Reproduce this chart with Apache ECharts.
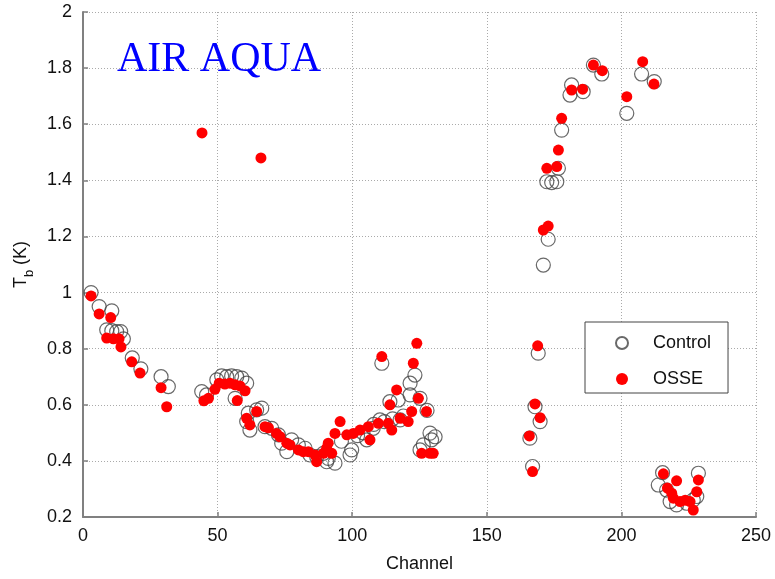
<!DOCTYPE html>
<html>
<head>
<meta charset="utf-8">
<script src="https://cdn.jsdelivr.net/npm/echarts@6/dist/echarts.min.js"></script>
<style>
html,body{margin:0;padding:0;background:#fff;}
#chart{width:775px;height:579px;}
</style>
</head>
<body>
<div id="chart"></div>
<script>
// Axis ticks
var xTicks = [0, 50, 100, 150, 200, 250];
var yTicks = [0.2, 0.4, 0.6, 0.8, 1, 1.2, 1.4, 1.6, 1.8, 2];

// Control series (open circles)
var controlChannel = [3, 6, 10.7, 8.8, 10.7, 12.5, 14, 15, 18.3, 21.5, 29, 31.7,
  44.1, 45.9, 49.7, 51.5, 53.4, 55.2, 57.1, 59, 60.8, 56.5,
  61.4, 64.5, 66.4, 60.8, 62, 67.6, 70.1, 72.6, 73.8, 75.7, 77.5, 80, 82.5, 84.3, 86.8, 89.3, 90.5,
  91.1, 93.6, 99.2, 99.8, 105.4, 107.8, 110.3, 114, 117.1, 121.5, 125.2, 121.5, 117.8, 128.9, 126.4, 125.2, 129.5, 111, 123.3, 127.8, 130.8,
  96, 102, 104, 108, 112, 115, 119,
  171, 172.8, 172.3, 174.1, 176, 176.6, 169.1, 167.9, 169.8, 166, 167, 177.8,
  181.5, 180.9, 185.8, 189.6, 192.7, 202, 207.5, 212.2,
  215.3, 213.7, 216.8, 218.1, 220.5, 224.3, 226.7, 228.6, 228];
var controlTb = [1.0, 0.95, 0.935, 0.867, 0.864, 0.861, 0.861, 0.835, 0.767, 0.728, 0.70, 0.665,
  0.647, 0.635, 0.689, 0.703, 0.70, 0.703, 0.70, 0.695, 0.677, 0.623,
  0.57, 0.582, 0.588, 0.54, 0.51, 0.522, 0.516, 0.493, 0.463, 0.433, 0.475, 0.457, 0.445, 0.421, 0.415, 0.427, 0.397,
  0.409, 0.392, 0.421, 0.439, 0.475, 0.516, 0.546, 0.611, 0.617, 0.635, 0.623, 0.677, 0.546, 0.499, 0.457, 0.439, 0.475, 0.748, 0.706, 0.58, 0.486,
  0.47, 0.49, 0.50, 0.53, 0.54, 0.55, 0.56,
  1.098, 1.19, 1.395, 1.392, 1.395, 1.443, 0.784, 0.593, 0.54, 0.481, 0.38, 1.579,
  1.74, 1.704, 1.716, 1.811, 1.779, 1.639, 1.779, 1.752,
  0.358, 0.314, 0.296, 0.255, 0.243, 0.249, 0.261, 0.356, 0.273];

// OSSE series (red dots)
var osseChannel = [3, 6, 10.3, 8.8, 11.3, 13.4, 14.1, 18.1, 21.2, 29, 31.1,
  44.2, 44.9, 46.6, 49, 50.6, 52.7, 54.6, 56.5, 58.3, 60.2, 57.3, 66.1,
  60.8, 62, 64.5, 67.6, 68.9, 71.9, 73.2, 75.7, 76.9, 80, 81.8, 83.7, 86.2, 86.8, 89.3, 91.1,
  95.5, 93.6, 90.5, 92.4, 98, 100.4, 102.9, 106, 106.6, 109.7, 113.4, 114.7, 117.8, 120.8, 114, 116.5, 122.1, 127.6, 125.8, 128.9, 111, 124, 122.7, 124.6, 130.1,
  168.9, 167.9, 169.8, 165.8, 167, 171, 172.8, 172.3, 176, 176.6, 177.8,
  181.5, 185.6, 189.6, 192.9, 202, 207.9, 212.1,
  215.6, 220.5, 217.1, 218.7, 219.3, 221.8, 225.5, 226.7, 228, 228.6, 223.7];
var osseTb = [0.988, 0.924, 0.911, 0.838, 0.835, 0.835, 0.806, 0.753, 0.713, 0.661, 0.593,
  1.569, 0.614, 0.623, 0.655, 0.677, 0.674, 0.677, 0.671, 0.667, 0.65, 0.615, 1.48,
  0.552, 0.528, 0.576, 0.522, 0.518, 0.498, 0.486, 0.463, 0.457, 0.439, 0.433, 0.433, 0.421, 0.397, 0.427, 0.463,
  0.54, 0.498, 0.445, 0.427, 0.493, 0.498, 0.51, 0.522, 0.475, 0.534, 0.534, 0.51, 0.552, 0.54, 0.60, 0.653, 0.576, 0.576, 0.427, 0.427, 0.772, 0.819, 0.748, 0.623, 0.427,
  0.81, 0.603, 0.554, 0.489, 0.362, 1.223, 1.237, 1.443, 1.449, 1.508, 1.621,
  1.722, 1.725, 1.811, 1.791, 1.698, 1.823, 1.743,
  0.354, 0.329, 0.303, 0.285, 0.267, 0.255, 0.255, 0.225, 0.29, 0.332, 0.26];

function zip(a, b) { return a.map(function (v, i) { return [v, b[i]]; }); }

var font = 'Liberation Sans, Arial, Helvetica, sans-serif';
var chart = echarts.init(document.getElementById('chart'), null, {renderer: 'canvas'});
chart.setOption({
  animation: false,
  backgroundColor: '#fff',
  title: {
    text: 'AIR AQUA',
    left: 112, top: 34,
    textStyle: {fontFamily: 'Liberation Serif, Times New Roman, serif', fontSize: 42, fontWeight: 'normal', color: '#0000ff'}
  },
  grid: {left: 83, right: 19, top: 12, bottom: 62, containLabel: false},
  legend: {
    orient: 'vertical',
    left: 585, top: 322,
    padding: [12, 17, 5, 30],
    itemGap: 18,
    itemWidth: 52, itemHeight: 12,
    borderColor: '#444', borderWidth: 1,
    backgroundColor: '#fff',
    textStyle: {fontFamily: font, fontSize: 18, color: '#111'},
    data: ['Control', 'OSSE']
  },
  xAxis: {
    type: 'value', min: 0, max: 250, interval: 50,
    name: 'Channel', nameLocation: 'middle', nameGap: 38,
    nameTextStyle: {fontFamily: font, fontSize: 18, color: '#111'},
    axisLine: {show: true, lineStyle: {color: '#808080', width: 2}},
    axisTick: {show: true, inside: true, length: 5, lineStyle: {color: '#808080', width: 1.5}},
    axisLabel: {fontFamily: font, fontSize: 18, color: '#111', margin: 10},
    splitLine: {show: true, lineStyle: {color: '#aaa', type: [1, 2], width: 1}}
  },
  yAxis: {
    type: 'value', min: 0.2, max: 2, interval: 0.2,
    name: '{t|T}{b|b}{t| (K)}', nameLocation: 'middle', nameGap: 40, nameRotate: 90,
    nameTextStyle: {
      fontFamily: font, color: '#111',
      rich: {
        t: {fontFamily: font, fontSize: 18, color: '#111', lineHeight: 18},
        b: {fontFamily: font, fontSize: 13, color: '#111', lineHeight: 30, verticalAlign: 'bottom'}
      }
    },
    axisLine: {show: true, lineStyle: {color: '#808080', width: 2}},
    axisTick: {show: true, inside: true, length: 5, lineStyle: {color: '#808080', width: 1.5}},
    axisLabel: {fontFamily: font, fontSize: 18, color: '#111', margin: 11,
      formatter: function (v) { return String(Math.round(v * 10) / 10); }},
    splitLine: {show: true, lineStyle: {color: '#aaa', type: [1, 2], width: 1}}
  },
  series: [
    {
      name: 'Control', type: 'scatter', symbol: 'circle', symbolSize: 14,
      itemStyle: {color: 'rgba(255,255,255,0)', borderColor: '#444', borderWidth: 1.2},
      data: zip(controlChannel, controlTb), z: 2
    },
    {
      name: 'OSSE', type: 'scatter', symbol: 'circle', symbolSize: 11,
      itemStyle: {color: '#ff0000', opacity: 1},
      data: zip(osseChannel, osseTb), z: 3
    }
  ]
});
</script>
</body>
</html>
